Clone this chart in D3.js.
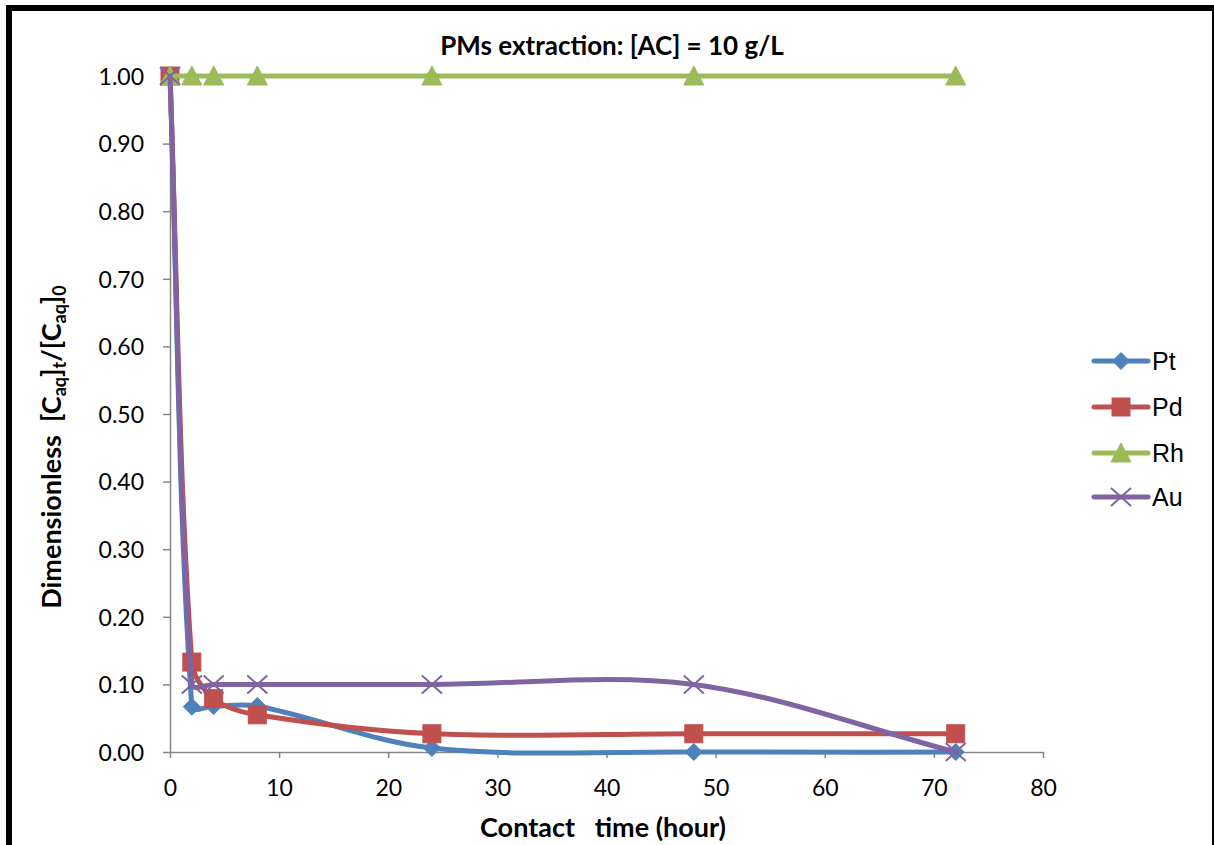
<!DOCTYPE html>
<html>
<head>
<meta charset="utf-8">
<script src="https://cdn.jsdelivr.net/npm/d3@7"></script>
<style>
  html, body { margin: 0; padding: 0; background: #fff; }
  svg { display: block; }
</style>
</head>
<body>
<svg id="chart" width="1214" height="845"></svg>
<script>
// ---- data ----
const times = [0, 2, 4, 8, 24, 48, 72];
const ptValues = [1.0, 0.067, 0.068, 0.068, 0.006, 0.0, 0.0];
const pdValues = [1.0, 0.133, 0.079, 0.055, 0.027, 0.027, 0.027];
const rhValues = [1.0, 1.0, 1.0, 1.0, 1.0, 1.0, 1.0];
const auValues = [1.0, 0.10, 0.10, 0.10, 0.10, 0.10, 0.0];
const seriesNames = ["Pt", "Pd", "Rh", "Au"];
const xTicks = [0, 10, 20, 30, 40, 50, 60, 70, 80];
const yTicks = [0, 0.1, 0.2, 0.3, 0.4, 0.5, 0.6, 0.7, 0.8, 0.9, 1.0];
const titleText = "PMs extraction: [AC] = 10 g/L";
const xLabelText = "Contact   time (hour)";

const seriesValues = [ptValues, pdValues, rhValues, auValues];
const colors = ["#4F81BD", "#C0504D", "#9BBB59", "#8064A2"];
const markers = ["diamond", "square", "triangle", "x"];
const smooth = [true, true, false, true];

const svg = d3.select("#chart");

// frame
svg.append("rect").attr("x", 9).attr("y", 8).attr("width", 1206).attr("height", 860)
  .attr("fill", "#fff").attr("stroke", "#000").attr("stroke-width", 6);

const x = d3.scaleLinear().domain([0, 80]).range([170, 1043]);
const y = d3.scaleLinear().domain([0, 1]).range([752, 76]);

const tickFont = "Lato, 'Open Sans', sans-serif";

// axes
const xAxis = d3.axisBottom(x).tickValues(xTicks).tickSize(6).tickSizeOuter(0).tickFormat(d3.format("d"));
const gx = svg.append("g").attr("transform", `translate(0,${y(0)})`).call(xAxis);
const yAxis = d3.axisLeft(y).tickValues(yTicks).tickSize(7).tickSizeOuter(0).tickFormat(d3.format(".2f"));
const gy = svg.append("g").attr("transform", `translate(${x(0)},0)`).call(yAxis);
[gx, gy].forEach(g => {
  g.select(".domain").attr("stroke", "#868686").attr("stroke-width", 1.5);
  g.selectAll(".tick line").attr("stroke", "#868686").attr("stroke-width", 1.5);
  g.selectAll(".tick text").attr("fill", "#000").style("font-family", tickFont).style("font-size", "23px");
});
gx.selectAll(".tick text").attr("dy", null).attr("y", 0).attr("dominant-baseline", "auto")
  .attr("transform", "translate(0,44)");
gy.selectAll(".tick text").attr("x", -26).attr("dy", "0.36em");

// Excel-like smoothing: Bezier control points scaled by neighbouring segment lengths
function smoothPath(p) {
  const path = d3.path();
  path.moveTo(p[0][0], p[0][1]);
  const dist = (a, b) => Math.hypot(b[0] - a[0], b[1] - a[1]);
  for (let i = 0; i < p.length - 1; i++) {
    const p0 = p[Math.max(i - 1, 0)], p1 = p[i], p2 = p[i + 1], p3 = p[Math.min(i + 2, p.length - 1)];
    const d01 = dist(p0, p1), d12 = dist(p1, p2), d23 = dist(p2, p3);
    const f1 = (d01 + d12) > 0 ? d12 / (d01 + d12) / 3 : 0;
    const f2 = (d12 + d23) > 0 ? d12 / (d12 + d23) / 3 : 0;
    const c1 = [p1[0] + (p2[0] - p0[0]) * f1, p1[1] + (p2[1] - p0[1]) * f1];
    const c2 = [p2[0] - (p3[0] - p1[0]) * f2, p2[1] - (p3[1] - p1[1]) * f2];
    path.bezierCurveTo(c1[0], c1[1], c2[0], c2[1], p2[0], p2[1]);
  }
  return path.toString();
}

// marker drawing
function drawMarker(g, type, cx, cy, color) {
  if (type === "diamond") {
    const s = 8.5;
    g.append("path").attr("d", `M${cx},${cy - s}L${cx + s},${cy}L${cx},${cy + s}L${cx - s},${cy}Z`)
      .attr("fill", color).attr("stroke", color).attr("stroke-width", 1);
  } else if (type === "square") {
    const s = 9;
    g.append("rect").attr("x", cx - s).attr("y", cy - s).attr("width", 2 * s).attr("height", 2 * s)
      .attr("fill", color).attr("stroke", color).attr("stroke-width", 1);
  } else if (type === "triangle") {
    const w = 10, h = 9;
    g.append("path").attr("d", `M${cx},${cy - h - 1}L${cx + w},${cy + h}L${cx - w},${cy + h}Z`)
      .attr("fill", color).attr("stroke", color).attr("stroke-width", 1);
  } else if (type === "x") {
    const sx = 10, sy = 9;
    g.append("path").attr("d", `M${cx - sx},${cy - sy}L${cx + sx},${cy + sy}M${cx - sx},${cy + sy}L${cx + sx},${cy - sy}`)
      .attr("fill", "none").attr("stroke", color).attr("stroke-width", 2);
  }
}

// series
seriesValues.forEach((vals, i) => {
  const g = svg.append("g");
  const px = times.map((t, j) => [x(t), y(vals[j])]);
  const d = smooth[i] ? smoothPath(px) : d3.line()(px);
  g.append("path").attr("d", d).attr("fill", "none").attr("stroke", colors[i])
    .attr("stroke-width", 5).attr("stroke-linejoin", "round").attr("stroke-linecap", "round");
  px.forEach(p => drawMarker(g, markers[i], p[0], p[1], colors[i]));
});

// legend
const legY = [361, 407, 453, 497];
seriesNames.forEach((name, i) => {
  const g = svg.append("g");
  g.append("line").attr("x1", 1094).attr("x2", 1148).attr("y1", legY[i]).attr("y2", legY[i])
    .attr("stroke", colors[i]).attr("stroke-width", 5).attr("stroke-linecap", "round");
  drawMarker(g, markers[i], 1121, legY[i], colors[i]);
  g.append("text").attr("x", 1152).attr("y", legY[i]).attr("dy", "0.36em")
    .style("font-family", "'Liberation Sans', Arial, sans-serif").style("font-size", "25px")
    .text(name);
});

// title
svg.append("text").attr("x", 612).attr("y", 55).attr("text-anchor", "middle")
  .style("font-family", tickFont).style("font-weight", "bold").style("font-size", "26px")
  .text(titleText);

// x label
svg.append("text").attr("x", 603).attr("y", 837).attr("text-anchor", "middle")
  .style("font-family", tickFont).style("font-weight", "bold").style("font-size", "27px")
  .style("white-space", "pre").attr("xml:space", "preserve")
  .text(xLabelText);

// y label
const yl = svg.append("text").attr("transform", "translate(61,447) rotate(-90)").attr("text-anchor", "middle")
  .style("font-family", tickFont).style("font-weight", "bold").style("font-size", "27px")
  .style("white-space", "pre").attr("xml:space", "preserve");
const parts = [
  ["Dimensionless  [C", 0], ["aq", 1], ["]", 0], ["t", 1], ["/[C", 0], ["aq", 1], ["]", 0], ["0", 1]
];
parts.forEach(([t, sub]) => {
  const ts = yl.append("tspan").text(t);
  if (sub) ts.attr("baseline-shift", "-25%").style("font-size", "18px");
});
</script>
</body>
</html>
